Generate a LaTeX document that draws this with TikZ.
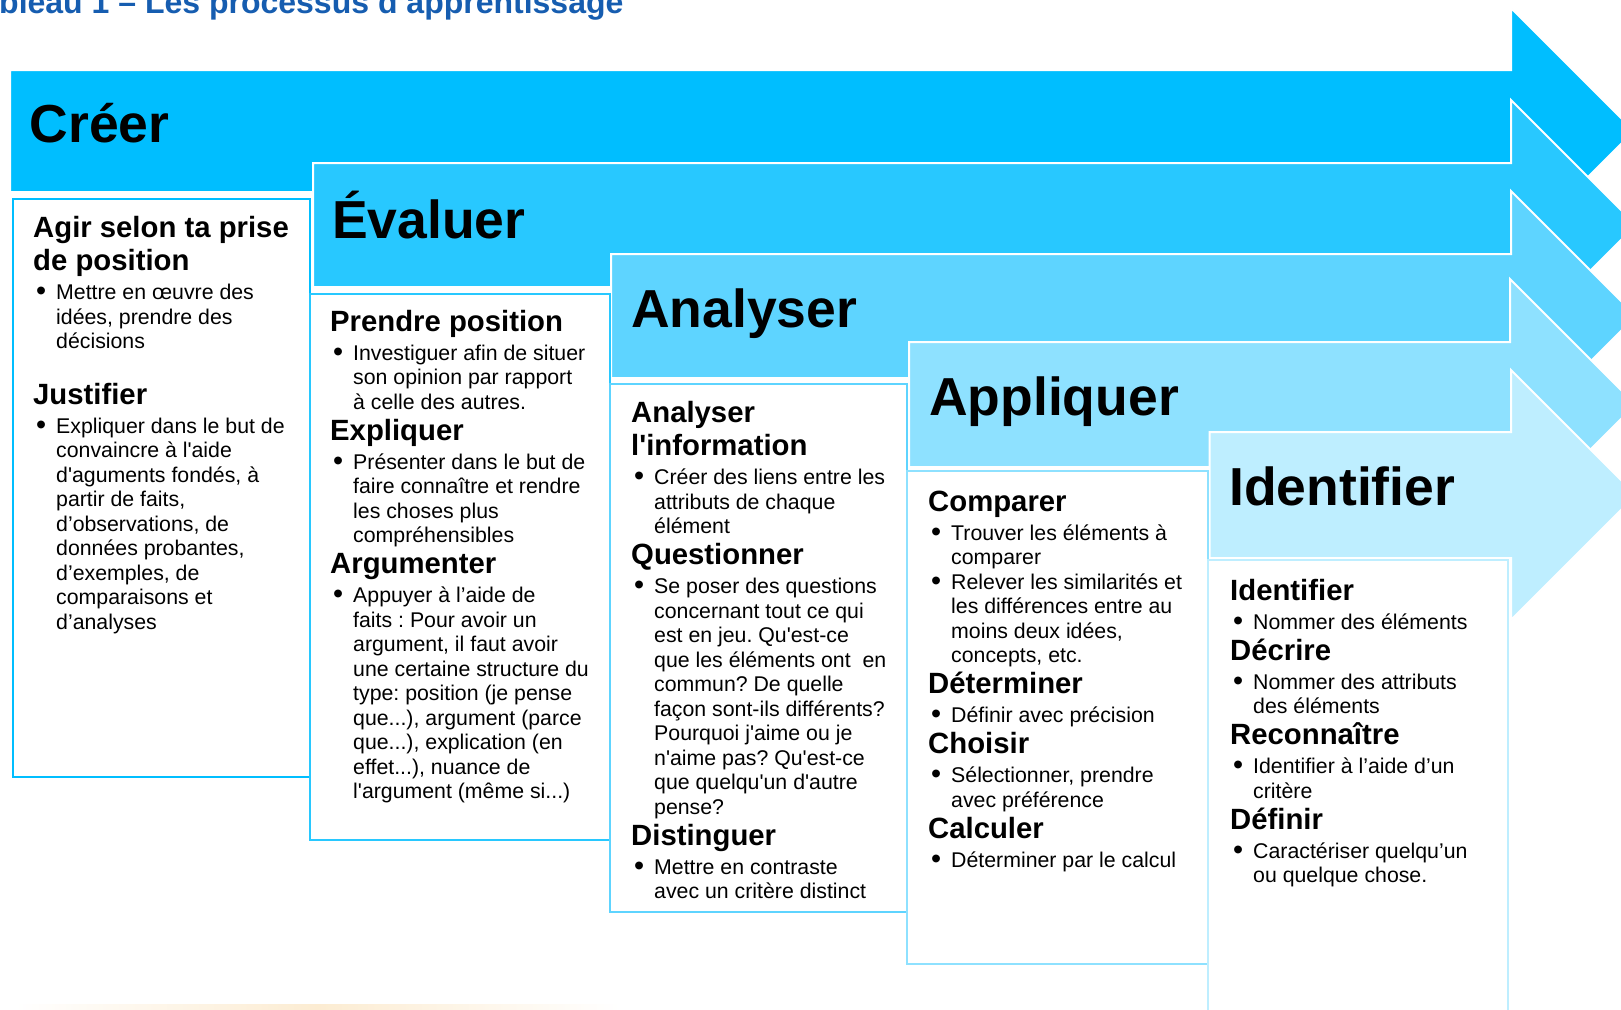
\documentclass[tikz,border=0pt]{standalone}
\usepackage{fontspec}
\usepackage{graphicx}
\newfontfamily\arial{Liberation Sans}
\definecolor{bandA}{RGB}{0,190,255}
\definecolor{bandB}{RGB}{40,200,255}
\definecolor{bandC}{RGB}{94,212,255}
\definecolor{bandD}{RGB}{142,225,255}
\definecolor{bandE}{RGB}{190,238,255}
\definecolor{titleblue}{RGB}{22,93,176}
\definecolor{beige}{RGB}{252,236,210}
\newcommand\hdfont{\arial\bfseries\fontsize{29.3}{33.5}\selectfont}
\newcommand\bodyfont{\arial\fontsize{21.3}{24.5}\selectfont}
\newcommand\hdf[1]{{\hdfont #1\par}\vspace{4.5pt}}
\newcommand\hd[1]{\par\vspace{-2.5pt}{\hdfont #1\par}\vspace{4.5pt}}
\newcommand\bul[1]{\par{\leftskip=23pt\noindent\llap{\makebox[20pt][l]{\raisebox{-1pt}{\scalebox{1.35}{\textbullet}}}}#1\par}}
\newcommand\panelcontent[1]{\parbox[t]{400pt}{\bodyfont\frenchspacing\raggedright #1}}
\tikzset{
  band/.style={draw=white, line width=2pt, line join=miter},
  panel/.style={fill=white, line width=2pt},
  bandtitle/.style={anchor=base west, inner sep=0pt, font=\arial\bfseries\fontsize{53.5}{60}\selectfont},
  paneltext/.style={anchor=base west, inner sep=0pt}
}
\begin{document}
\begin{tikzpicture}[x=1pt,y=-1pt]
\useasboundingbox (0,0) rectangle (1621,1009);
\clip (0,0) rectangle (1621,1009);
\fill[white] (0,0) rectangle (1621,1009);

% title
\node[anchor=base west, inner sep=0pt, text=titleblue, font=\arial\bfseries\fontsize{32}{36}\selectfont] (title) at (-1,13) {bleau 1 – Les processus d’apprentissage};

% arrows
\draw[band, fill=bandA] (10,70) -- (1511,70) -- (1511,8) -- (1634,131) -- (1511,254) -- (1511,192) -- (10,192) -- cycle;
\draw[band, fill=bandB] (313,163) -- (1511,163) -- (1511,100) -- (1636,225) -- (1511,350) -- (1511,287) -- (313,287) -- cycle;
\draw[band, fill=bandC] (611,254) -- (1511,254) -- (1511,191) -- (1636,316) -- (1511,441) -- (1511,378) -- (611,378) -- cycle;
\draw[band, fill=bandD] (909,342) -- (1510,342) -- (1510,279) -- (1635.5,404.5) -- (1510,530) -- (1510,467) -- (909,467) -- cycle;
\draw[band, fill=bandE] (1209.5,432) -- (1511,432) -- (1511,370) -- (1636,495) -- (1511,620) -- (1511,558) -- (1209.5,558) -- cycle;

% panels
\draw[panel, draw=bandA] (12.5,198.5) rectangle (310,777);
\draw[panel, draw=bandB] (310,293.5) rectangle (610,839.5);
\draw[panel, draw=bandC] (610,383.5) rectangle (906.5,912);
\draw[panel, draw=bandD] (906.5,471) rectangle (1207.5,963.5);
\draw[panel, draw=bandE] (1207.5,560) rectangle (1508,1030);

% faint bottom line
\shade[left color=white, right color=white, middle color=beige] (15,1004) rectangle (620,1009);

% band titles
\node[bandtitle] (creer) at (29.5,142.7) {Créer};
\node[bandtitle] (evaluer) at (332,238) {Évaluer};
\node[bandtitle] (analyser) at (631,327) {Analyser};
\node[bandtitle] (appliquer) at (929,415) {Appliquer};
\node[bandtitle] (identifier) at (1229,505) {Identifier};

% panel texts
\node[paneltext] (t1) at (33,237) {\panelcontent{%
\hdf{Agir selon ta prise\newline de position}
\bul{Mettre en œuvre des\newline idées, prendre des\newline décisions}
\par\vspace{24.5pt}
\hd{Justifier}
\bul{Expliquer dans le but de\newline convaincre à l'aide\newline d'aguments fondés, à\newline partir de faits,\newline d’observations, de\newline données probantes,\newline d’exemples, de\newline comparaisons et\newline d’analyses}}};

\node[paneltext] (t2) at (330,331) {\panelcontent{%
\hdf{Prendre position}
\bul{Investiguer afin de situer\newline son opinion par rapport\newline à celle des autres.}
\hd{Expliquer}
\bul{Présenter dans le but de\newline faire connaître et rendre\newline les choses plus\newline compréhensibles}
\hd{Argumenter}
\bul{Appuyer à l’aide de\newline faits : Pour avoir un\newline argument, il faut avoir\newline une certaine structure du\newline type: position (je pense\newline que...), argument (parce\newline que...), explication (en\newline effet...), nuance de\newline l'argument (même si...)}}};

\node[paneltext] (t3) at (631,422) {\panelcontent{%
\hdf{Analyser\newline l'information}
\bul{Créer des liens entre les\newline attributs de chaque\newline élément}
\hd{Questionner}
\bul{Se poser des questions\newline concernant tout ce qui\newline est en jeu. Qu'est-ce\newline que les éléments ont\ \ en\newline commun? De quelle\newline façon sont-ils différents?\newline Pourquoi j'aime ou je\newline n'aime pas? Qu'est-ce\newline que quelqu'un d'autre\newline pense?}
\hd{Distinguer}
\bul{Mettre en contraste\newline avec un critère distinct}}};

\node[paneltext] (t4) at (928,511) {\panelcontent{%
\hdf{Comparer}
\bul{Trouver les éléments à\newline comparer}
\bul{Relever les similarités et\newline les différences entre au\newline moins deux idées,\newline concepts, etc.}
\hd{Déterminer}
\bul{Définir avec précision}
\hd{Choisir}
\bul{Sélectionner, prendre\newline avec préférence}
\hd{Calculer}
\bul{Déterminer par le calcul}}};

\node[paneltext] (t5) at (1230,600) {\panelcontent{%
\hdf{Identifier}
\bul{Nommer des éléments}
\hd{Décrire}
\bul{Nommer des attributs\newline des éléments}
\hd{Reconnaître}
\bul{Identifier à l’aide d’un\newline critère}
\hd{Définir}
\bul{Caractériser quelqu’un\newline ou quelque chose.}}};
\end{tikzpicture}
\end{document}
